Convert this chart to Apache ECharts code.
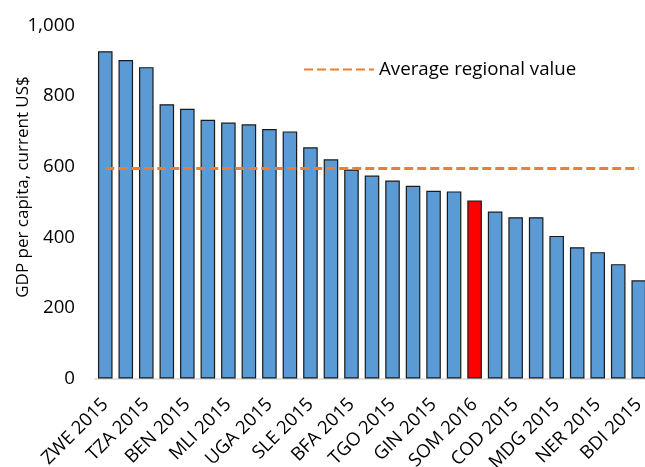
<!DOCTYPE html>
<html>
<head>
    <meta charset="UTF-8">
    <title>GDP per capita</title>
    <script type="text/javascript" src="https://cdn.jsdelivr.net/npm/echarts@6/dist/echarts.min.js"></script>
</head>
<body style="margin: 0;background: #ffffff;">
<div id="chart" style="width:645px;height:467px;"></div>
<script>
    // countries, sorted by GDP per capita (only every other one is labelled)
    var countries = ["ZWE 2015", "SSD 2015", "TZA 2015", "COM 2015", "BEN 2015", "TCD 2015", "MLI 2015",
        "RWA 2015", "UGA 2015", "ETH 2015", "SLE 2015", "GNB 2015", "BFA 2015", "MOZ 2015", "TGO 2015",
        "GMB 2015", "GIN 2015", "ERI 2015", "SOM 2016", "LBR 2015", "COD 2015", "MWI 2015", "MDG 2015",
        "CAF 2015", "NER 2015", "AFG 2015", "BDI 2015"];
    var gdpValues = [927, 902, 882, 777, 764, 733, 725, 720, 707, 700, 655, 621, 592, 575, 561,
        546, 532, 530, 504, 473, 457, 457, 404, 372, 358, 324, 278];
    var highlightName = "SOM 2016";
    var averageValue = 595;
    var yTicks = [0, 200, 400, 600, 800, 1000];

    var font = "Open Sans";

    var barData = gdpValues.map(function (v, i) {
        var item = {value: v};
        if (countries[i] == highlightName) {
            item.itemStyle = {color: "#ff0000"};
        }
        return item;
    });
    var avgData = countries.map(function () {
        return averageValue;
    });

    var chart = echarts.init(document.getElementById("chart"));
    chart.setOption({
        animation: false,
        textStyle: {fontFamily: font},
        legend: {
            data: ["Average regional value"],
            left: 298,
            top: 55,
            itemWidth: 70,
            itemHeight: 14,
            itemGap: 0,
            itemStyle: {opacity: 0},
            textStyle: {fontFamily: font, fontSize: 18.7, color: "#000"}
        },
        grid: {left: 95, right: -4, top: 25.5, bottom: 88.5, outerBoundsMode: "none"},
        xAxis: {
            type: "category",
            data: countries,
            axisLine: {lineStyle: {color: "#d9d9d9", width: 1.5}},
            axisTick: {show: false},
            axisLabel: {
                interval: 1,
                rotate: 45,
                margin: 23,
                color: "#000",
                fontFamily: font,
                fontSize: 18.5
            }
        },
        yAxis: {
            type: "value",
            min: yTicks[0],
            max: yTicks[yTicks.length - 1],
            interval: 200,
            name: "GDP per capita, current US$",
            nameLocation: "middle",
            nameGap: 63,
            nameMoveOverlap: false,
            nameTextStyle: {fontFamily: font, fontSize: 17, color: "#000", padding: [0, 0, 0, 30]},
            axisLine: {show: false},
            axisTick: {show: false},
            splitLine: {show: false},
            axisLabel: {
                color: "#000",
                fontFamily: font,
                fontSize: 18.7,
                margin: 20,
                formatter: function (v) {
                    return v.toLocaleString("en-US");
                }
            }
        },
        series: [
            {
                name: "GDP per capita",
                type: "bar",
                data: barData,
                barCategoryGap: "29%",
                itemStyle: {color: "#5b9bd5", borderColor: "#1a1a1a", borderWidth: 1.2}
            },
            {
                name: "Average regional value",
                type: "line",
                data: avgData,
                symbol: "none",
                itemStyle: {color: "#ed7d31"},
                lineStyle: {color: "#ed7d31", width: 3, type: [9, 4]}
            }
        ]
    });
</script>
</body>
</html>
